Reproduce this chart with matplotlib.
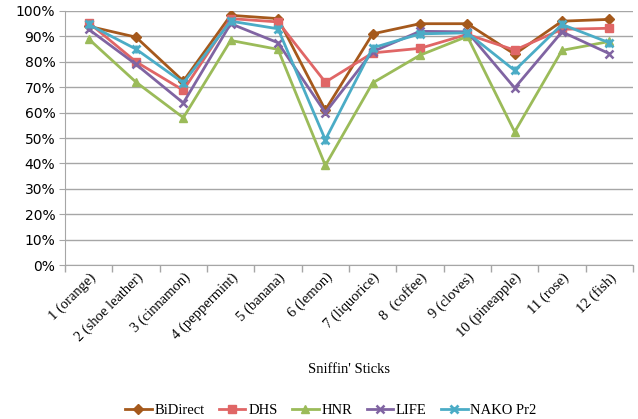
import matplotlib
matplotlib.use("Agg")
import matplotlib.pyplot as plt
from matplotlib.ticker import PercentFormatter, FixedLocator
import numpy as np

categories = ["1 (orange)", "2 (shoe leather)", "3 (cinnamon)", "4 (peppermint)",
              "5 (banana)", "6 (lemon)", "7 (liquorice)", "8  (coffee)",
              "9 (cloves)", "10 (pineapple)", "11 (rose)", "12 (fish)"]

bidirect = [94.0, 89.7, 72.4, 98.3, 97.0, 61.0, 91.0, 95.0, 95.0, 83.0, 96.0, 96.7]
dhs      = [95.4, 80.0, 68.8, 97.0, 95.7, 72.0, 83.5, 85.3, 90.8, 84.6, 92.8, 93.2]
hnr      = [89.0, 72.0, 58.0, 88.4, 84.9, 39.2, 71.7, 82.6, 90.0, 52.4, 84.5, 88.0]
life     = [92.8, 79.0, 63.8, 95.0, 87.5, 60.0, 84.0, 92.0, 91.8, 69.7, 91.8, 83.2]
nako     = [94.7, 85.0, 71.7, 96.0, 93.0, 49.3, 85.5, 91.0, 91.4, 76.6, 94.7, 87.5]

series = [
    ("BiDirect", bidirect, "#A5591C", "D", 5),
    ("DHS", dhs, "#E06666", "s", 6),
    ("HNR", hnr, "#9BBB59", "^", 6),
    ("LIFE", life, "#8064A2", "x", 6),
    ("NAKO Pr2", nako, "#4BACC6", "x", 6),
]

fig = plt.figure(figsize=(6.38, 4.19), dpi=100)
ax = fig.add_axes([65/638, 1 - 265/419, (633-65)/638, (265-11)/419])

x = np.arange(len(categories))
for name, vals, col, mk, ms in series:
    if name == "NAKO Pr2":
        ax.plot(x, vals, color=col, lw=2, marker="x", ms=6, mew=2, label=name)
        ax.plot(x, vals, color=col, lw=0, marker="|", ms=6, mew=2)
    elif name == "LIFE":
        ax.plot(x, vals, color=col, lw=2, marker=mk, ms=ms, mew=1.8, label=name)
    else:
        ax.plot(x, vals, color=col, lw=2, marker=mk, ms=ms, label=name)

ax.set_xlim(-0.5, len(categories) - 0.5)
ax.set_ylim(0, 100)
ax.yaxis.set_major_locator(FixedLocator(np.arange(0, 101, 10)))
ax.yaxis.set_major_formatter(PercentFormatter(decimals=0))
ax.grid(axis="y", color="#A6A6A6", lw=1)
ax.set_axisbelow(True)

ax.set_xticks(x)
ax.set_xticklabels(categories, rotation=45, ha="right", rotation_mode="anchor",
                   family="Liberation Serif", fontsize=10.5)
ax.tick_params(axis="x", length=0, pad=4)
ax.set_xticks(np.arange(-0.5, len(categories)), minor=True)
ax.tick_params(axis="x", which="minor", length=5, color="#A6A6A6", width=1)
ax.tick_params(axis="y", length=4, color="#A6A6A6", labelsize=10, pad=3)

for s in ["top", "right"]:
    ax.spines[s].set_visible(False)
for s in ["left", "bottom"]:
    ax.spines[s].set_color("#A6A6A6")

ax.set_xlabel("Sniffin' Sticks", family="Liberation Serif", fontsize=10.5, labelpad=14)

leg = fig.legend(loc="center", bbox_to_anchor=(331/638, 1 - 410/419), ncol=5, frameon=False,
                 prop={"family": "Liberation Serif", "size": 10.5},
                 handlelength=1.8, columnspacing=1.0, handletextpad=0.2)

fig.savefig("out.png", dpi=100)
